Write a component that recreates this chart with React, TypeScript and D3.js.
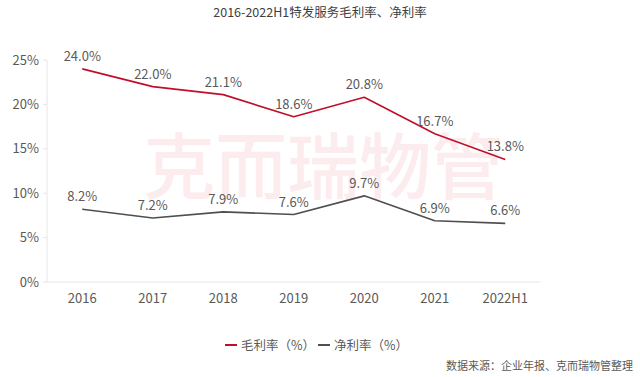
import React from "react";
import * as d3 from "d3";

const categories = ["2016", "2017", "2018", "2019", "2020", "2021", "2022H1"];
const grossMargin = [24.0, 22.0, 21.1, 18.6, 20.8, 16.7, 13.8];
const netMargin = [8.2, 7.2, 7.9, 7.6, 9.7, 6.9, 6.6];
const yTicks = [0, 5, 10, 15, 20, 25];
const seriesNames = ["毛利率（%）", "净利率（%）"];
const seriesColors = ["#C00F2B", "#4F4F4F"];

const W = 640;
const H = 377;
const FONT = "'Noto Sans CJK SC', 'Open Sans', sans-serif";

export default function App() {
  const x = d3.scaleBand<string>().domain(categories).range([47, 540.5]);
  const y = d3.scaleLinear().domain([0, 25]).range([282, 60]);
  const cx = (c: string) => (x(c) as number) + x.bandwidth() / 2;

  const line = d3
    .line<number>()
    .x((_, i) => cx(categories[i]))
    .y((d) => y(d))
    .curve(d3.curveLinear);

  const series = [grossMargin, netMargin];

  return (
    <svg
      width={W}
      height={H}
      style={{ position: "absolute", left: 0, top: 0, background: "#fff" }}
      fontFamily={FONT}
    >
      <rect width={W} height={H} fill="#fff" />
      <text x={320} y={17} textAnchor="middle" fontSize={12.5} fill="#404040">
        2016-2022H1特发服务毛利率、净利率
      </text>

      {/* watermark */}
      <text
        x={323}
        y={193}
        textAnchor="middle"
        fontSize={72}
        fill="#FCECEE"
        fontWeight={500}
      >
        克而瑞物管
      </text>

      {/* y axis */}
      <line x1={47} x2={47} y1={y(25)} y2={y(0)} stroke="#E6E6E6" />
      {yTicks.map((t) => (
        <g key={t}>
          <line x1={43} x2={47} y1={y(t)} y2={y(t)} stroke="#E6E6E6" />
          <text
            x={39}
            y={y(t)}
            dy="0.35em"
            textAnchor="end"
            fontSize={13}
            fill="#595959"
          >
            {t}%
          </text>
        </g>
      ))}

      {/* x axis */}
      <line x1={47} x2={540.5} y1={y(0)} y2={y(0)} stroke="#E6E6E6" />
      {categories.map((c) => (
        <text
          key={c}
          x={cx(c)}
          y={303}
          textAnchor="middle"
          fontSize={13}
          fill="#595959"
        >
          {c}
        </text>
      ))}

      {/* lines */}
      {series.map((s, si) => (
        <g key={si}>
          <path
            d={line(s) || ""}
            fill="none"
            stroke={seriesColors[si]}
            strokeWidth={1.6}
            strokeLinejoin="round"
          />
          {s.map((v, i) => (
            <text
              key={i}
              x={cx(categories[i])}
              y={y(v) - 8}
              textAnchor="middle"
              fontSize={13}
              fill="#595959"
            >
              {v.toFixed(1)}%
            </text>
          ))}
        </g>
      ))}

      {/* legend */}
      {seriesNames.map((n, i) => {
        const lx = i === 0 ? 225 : 318;
        return (
          <g key={n}>
            <line x1={lx} x2={lx + 12} y1={345} y2={345} stroke={seriesColors[i]} strokeWidth={2} />
            <text x={lx + 16} y={349.5} fontSize={12.5} fill="#595959">
              {n}
            </text>
          </g>
        );
      })}

      <text x={633} y={370} textAnchor="end" fontSize={11} fill="#595959">
        数据来源：企业年报、克而瑞物管整理
      </text>
    </svg>
  );
}
